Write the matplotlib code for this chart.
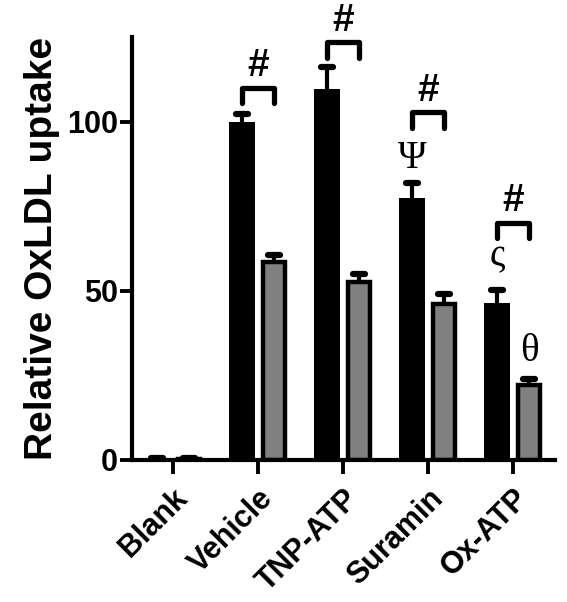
import numpy as np
import matplotlib
matplotlib.use("Agg")
import matplotlib.pyplot as plt

plt.rcParams['font.family'] = ['Liberation Sans', 'DejaVu Sans']

# data
groups = ['Blank', 'Vehicle', 'TNP-ATP', 'Suramin', 'Ox-ATP']
black_vals = [0.4, 100.0, 109.5, 77.5, 46.5]
black_err = [0.3, 2.2, 6.5, 4.3, 3.6]
gray_vals = [0.3, 58.5, 52.5, 46.0, 22.2]
gray_err = [0.3, 2.2, 2.6, 3.2, 1.8]

# significance brackets: group index, top of bracket, leg length
bracket_groups = [1, 2, 3, 4]
bracket_tops = [110.0, 123.4, 102.7, 70.1]
bracket_leg = 4.5

# greek markers: (group, which bar, y position, symbol)
sym_groups = [3, 4, 4]
sym_side = [-1, -1, 1]
sym_y = [83.5, 54.5, 26.5]
sym_text = ['Ψ', 'ς', 'θ']

x = np.arange(len(groups))
off = 0.188
w = 0.30

fig = plt.figure(figsize=(5.67, 6.02), dpi=100)
ax = fig.add_axes([0.2328, 0.2359, 0.979 - 0.2328, 0.9385 - 0.2359])

ax.bar(x - off, black_vals, width=w, color='black', edgecolor='black', linewidth=0)
ax.bar(x + off, gray_vals, width=w - 0.035, color='#808080', edgecolor='black', linewidth=3.2)

# upward-only error bars with rounded caps
for xs, vals, errs in [(x - off, black_vals, black_err), (x + off, gray_vals, gray_err)]:
    tops = np.array(vals) + np.array(errs)
    ax.vlines(xs, vals, tops, color='black', linewidth=3, capstyle='butt')
    ax.hlines(tops, xs - 0.07, xs + 0.07, color='black', linewidth=4.5, capstyle='round')

for g, top in zip(bracket_groups, bracket_tops):
    ax.plot([g - off, g - off, g + off, g + off],
            [top - bracket_leg, top, top, top - bracket_leg],
            color='black', linewidth=3.8, solid_capstyle='round',
            solid_joinstyle='round', clip_on=False)
    ax.text(g, top + 1.0, '#', ha='center', va='bottom', fontsize=28,
            fontweight='bold', clip_on=False)

for g, s, yy, t in zip(sym_groups, sym_side, sym_y, sym_text):
    ax.text(g + s * off, yy, t, ha='center', va='bottom', fontsize=28,
            family='Liberation Serif')

ax.set_xlim(-0.48, 4.494)
ax.set_ylim(0, 125)
ax.set_yticks([0, 50, 100])
ax.set_xticks(x)
ax.set_xticklabels(groups, rotation=45, ha='right', rotation_mode='anchor',
                   fontsize=22, fontweight='bold')
for lab in ax.get_yticklabels():
    lab.set_fontweight('bold')
    lab.set_fontsize(22)
ax.tick_params(axis='y', length=9, width=2.8, pad=1)
ax.tick_params(axis='x', length=10, width=2.8, pad=7)
ax.set_ylabel('Relative OxLDL uptake', fontsize=28, fontweight='bold', labelpad=5)

for side in ['top', 'right']:
    ax.spines[side].set_visible(False)
for side in ['left', 'bottom']:
    ax.spines[side].set_linewidth(3)

fig.savefig('out.png', dpi=100)
